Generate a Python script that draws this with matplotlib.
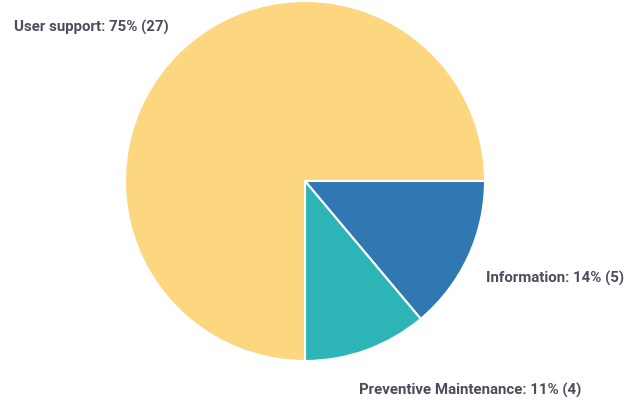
import matplotlib
matplotlib.use("Agg")
import matplotlib.pyplot as plt

categories = ["Information", "Preventive Maintenance", "User support"]
counts = [5, 4, 27]
percents = [14, 11, 75]
colors = ["#2F78B2", "#2DB4B7", "#FCD77F"]

W, H = 634, 402
fig = plt.figure(figsize=(W / 100, H / 100), dpi=100)
ax = fig.add_axes([0, 0, 1, 1])

cx, cy, r = 305, H - 182, 180
ax.pie(counts, colors=colors, startangle=0, counterclock=False,
       center=(cx, cy), radius=r, frame=True,
       wedgeprops=dict(edgecolor="white", linewidth=1.5))
ax.set_xlim(0, W)
ax.set_ylim(0, H)
ax.set_aspect("equal")
ax.axis("off")

label_pos = {
    "Information": (486, H - 278),
    "Preventive Maintenance": (359, H - 390),
    "User support": (14, H - 27),
}
for cat, n, p in zip(categories, counts, percents):
    x, y = label_pos[cat]
    ax.text(x, y, f"{cat}: {p}% ({n})", ha="left", va="center",
            fontsize=10.8, fontfamily="Roboto", fontweight="bold",
            color="#4A4E5C")

fig.savefig("out.png", dpi=100)
